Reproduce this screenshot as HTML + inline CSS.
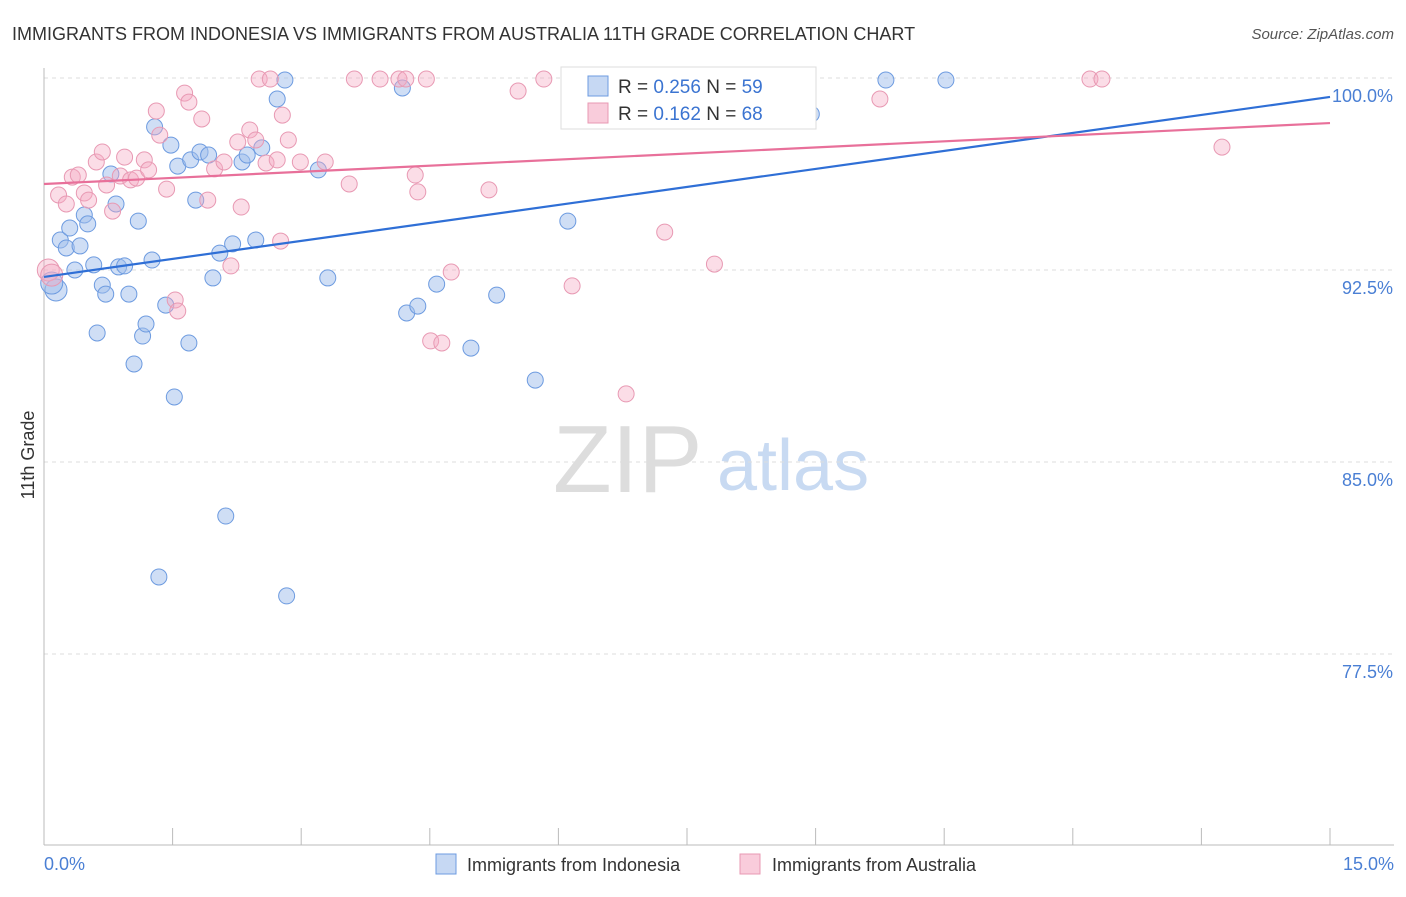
<!DOCTYPE html>
<html><head><meta charset="utf-8"><style>
body{margin:0;background:#fff;font-family:"Liberation Sans",sans-serif}
svg text{font-family:"Liberation Sans",sans-serif}
</style></head><body>
<svg id="c" width="1406" height="892" viewBox="0 0 1406 892" xmlns="http://www.w3.org/2000/svg">
<text x="12" y="40" font-size="18" fill="#333">IMMIGRANTS FROM INDONESIA VS IMMIGRANTS FROM AUSTRALIA 11TH GRADE CORRELATION CHART</text>
<text x="1394" y="39" font-size="15" fill="#555" text-anchor="end" font-style="italic">Source: ZipAtlas.com</text>
<g>
<text x="553" y="492" font-size="96" fill="#ddd" font-family="Liberation Serif">ZIP</text>
<text x="717" y="490" font-size="72" fill="#c8daf2">atlas</text>
</g>
<g id="grid"></g>
<g id="axes"></g>
<text transform="translate(34,455) rotate(-90)" font-size="18" fill="#333" text-anchor="middle">11th Grade</text>
<g id="pts"></g>
<g id="trend"></g>
<g>
<rect x="561" y="67" width="255" height="62" fill="#fff" stroke="#ddd"/>
<rect x="588" y="76" width="20" height="20" fill="rgba(160,190,235,0.6)" stroke="#6d9be0"/>
<text x="618" y="93" font-size="19" fill="#333">R = <tspan fill="#3b74d1">0.256</tspan>  N = <tspan fill="#3b74d1">59</tspan></text>
<rect x="588" y="103" width="20" height="20" fill="rgba(245,170,195,0.6)" stroke="#e899b3"/>
<text x="618" y="120" font-size="19" fill="#333">R =  <tspan fill="#3b74d1">0.162</tspan>  N = <tspan fill="#3b74d1">68</tspan></text>
</g>
<g>
<rect x="436" y="854" width="20" height="20" fill="rgba(160,190,235,0.6)" stroke="#6d9be0"/>
<text x="467" y="871" font-size="18" fill="#333">Immigrants from Indonesia</text>
<rect x="740" y="854" width="20" height="20" fill="rgba(245,170,195,0.6)" stroke="#e899b3"/>
<text x="772" y="871" font-size="18" fill="#333">Immigrants from Australia</text>
</g>
</svg>
<script>
const yTicks=[100,92.5,85,77.5];
const yTickLabels=["100.0%","92.5%","85.0%","77.5%"];
const xTicks=[0,1.5,3,4.5,6,7.5,9,10.5,12,13.5,15];
const xEndLabels=["0.0%","15.0%"];
const indoX=[0.14,0.09,0.19,0.26,0.30,0.36,0.42,0.47,0.51,0.58,0.62,0.68,0.72,0.78,0.84,0.87,0.94,0.99,1.05,1.10,1.15,1.19,1.26,1.29,1.34,1.42,1.48,1.52,1.56,1.69,1.71,1.77,1.82,1.92,1.97,2.05,2.12,2.20,2.31,2.37,2.47,2.54,2.72,2.81,2.83,3.20,3.31,4.18,4.23,4.36,4.58,4.98,5.28,5.73,6.11,8.95,9.82,10.52];
const indoY=[91.72,91.99,93.67,93.36,94.14,92.50,93.44,94.65,94.30,92.70,90.04,91.91,91.56,96.25,95.08,92.62,92.66,91.56,88.83,94.41,89.92,90.39,92.89,98.09,80.51,91.13,97.38,87.54,96.56,89.65,96.80,95.23,97.11,96.99,92.19,93.16,82.89,93.52,96.72,96.99,93.67,97.27,99.18,99.92,79.77,96.41,92.19,99.61,90.82,91.09,91.95,89.45,91.52,88.20,94.41,98.59,99.92,99.92];
const ausX=[0.05,0.09,0.17,0.26,0.33,0.40,0.47,0.52,0.61,0.68,0.73,0.80,0.89,0.94,1.01,1.08,1.17,1.22,1.31,1.35,1.43,1.53,1.56,1.64,1.69,1.84,1.91,1.99,2.10,2.18,2.26,2.30,2.40,2.47,2.51,2.59,2.64,2.72,2.76,2.78,2.85,2.99,3.28,3.56,3.62,3.92,4.14,4.22,4.33,4.36,4.46,4.51,4.64,4.75,5.19,5.53,5.83,6.16,6.25,6.79,7.24,7.82,9.75,12.20,12.34,13.74];
const ausY=[92.50,92.30,95.43,95.08,96.13,96.21,95.51,95.23,96.72,97.11,95.82,94.80,96.17,96.91,96.02,96.09,96.80,96.41,98.71,97.77,95.66,91.33,90.90,99.41,99.06,98.40,95.23,96.45,96.72,92.66,97.50,94.96,97.97,97.58,99.96,96.68,99.96,96.80,93.63,98.55,97.58,96.72,96.72,95.86,99.96,99.96,99.96,99.96,96.21,95.55,99.96,89.73,89.65,92.42,95.63,99.49,99.96,91.88,99.96,87.66,93.98,92.73,99.18,99.96,99.96,97.30];
const indoTrend=[92.23,99.26];
const ausTrend=[95.86,98.24];
const NS="http://www.w3.org/2000/svg";
const X0=44,X1=1330,Y100=78,PER=25.6;
function sx(v){return X0+(v-0)/15*(X1-X0);}
function sy(v){return Y100+(100-v)*PER;}
function mk(t,p,a){const e=document.createElementNS(NS,t);for(const k in a)e.setAttribute(k,a[k]);p.appendChild(e);return e;}
const grid=document.getElementById('grid'),axes=document.getElementById('axes');
yTicks.forEach((v,i)=>{
 const l=mk('line',grid,{x1:44,x2:1394,y1:sy(v),y2:sy(v),stroke:'#ddd','stroke-dasharray':'4,4'});
 
 
 const t=mk('text',axes,{x:1393,y:sy(v)+24,'font-size':18,fill:'#4a7fd4','text-anchor':'end'});
 t.textContent=yTickLabels[i];
 
 
});
const xl=mk('line',axes,{x1:44,x2:1394,y1:845,y2:845,stroke:'#bbb'});


const yl=mk('line',axes,{x1:44,x2:44,y1:68,y2:845,stroke:'#bbb'});


xTicks.forEach(v=>{
 const t=mk('line',axes,{x1:sx(v),x2:sx(v),y1:828,y2:845,stroke:'#bbb'});
 
 
});
const l0=mk('text',axes,{x:44,y:870,'font-size':18,fill:'#4a7fd4'});l0.textContent=xEndLabels[0];


const l1=mk('text',axes,{x:1394,y:870,'font-size':18,fill:'#4a7fd4','text-anchor':'end'});l1.textContent=xEndLabels[1];


const pts=document.getElementById('pts');
indoX.forEach((x,i)=>{
 const c=mk('circle',pts,{cx:sx(x),cy:sy(indoY[i]),r:i<2?11:8,fill:'rgba(160,190,235,0.5)',stroke:'#6d9be0','stroke-width':1});
 
 
});
ausX.forEach((x,i)=>{
 const c=mk('circle',pts,{cx:sx(x),cy:sy(ausY[i]),r:i<2?11:8,fill:'rgba(245,170,195,0.4)',stroke:'#e899b3','stroke-width':1});
 
 
});
const tr=document.getElementById('trend');
const tb=mk('line',tr,{x1:sx(0),y1:sy(indoTrend[0]),x2:sx(15),y2:sy(indoTrend[1]),stroke:'#2f6fd6','stroke-width':2.2});


const tp=mk('line',tr,{x1:sx(0),y1:sy(ausTrend[0]),x2:sx(15),y2:sy(ausTrend[1]),stroke:'#e8709a','stroke-width':2.2});


</script>
</body></html>
